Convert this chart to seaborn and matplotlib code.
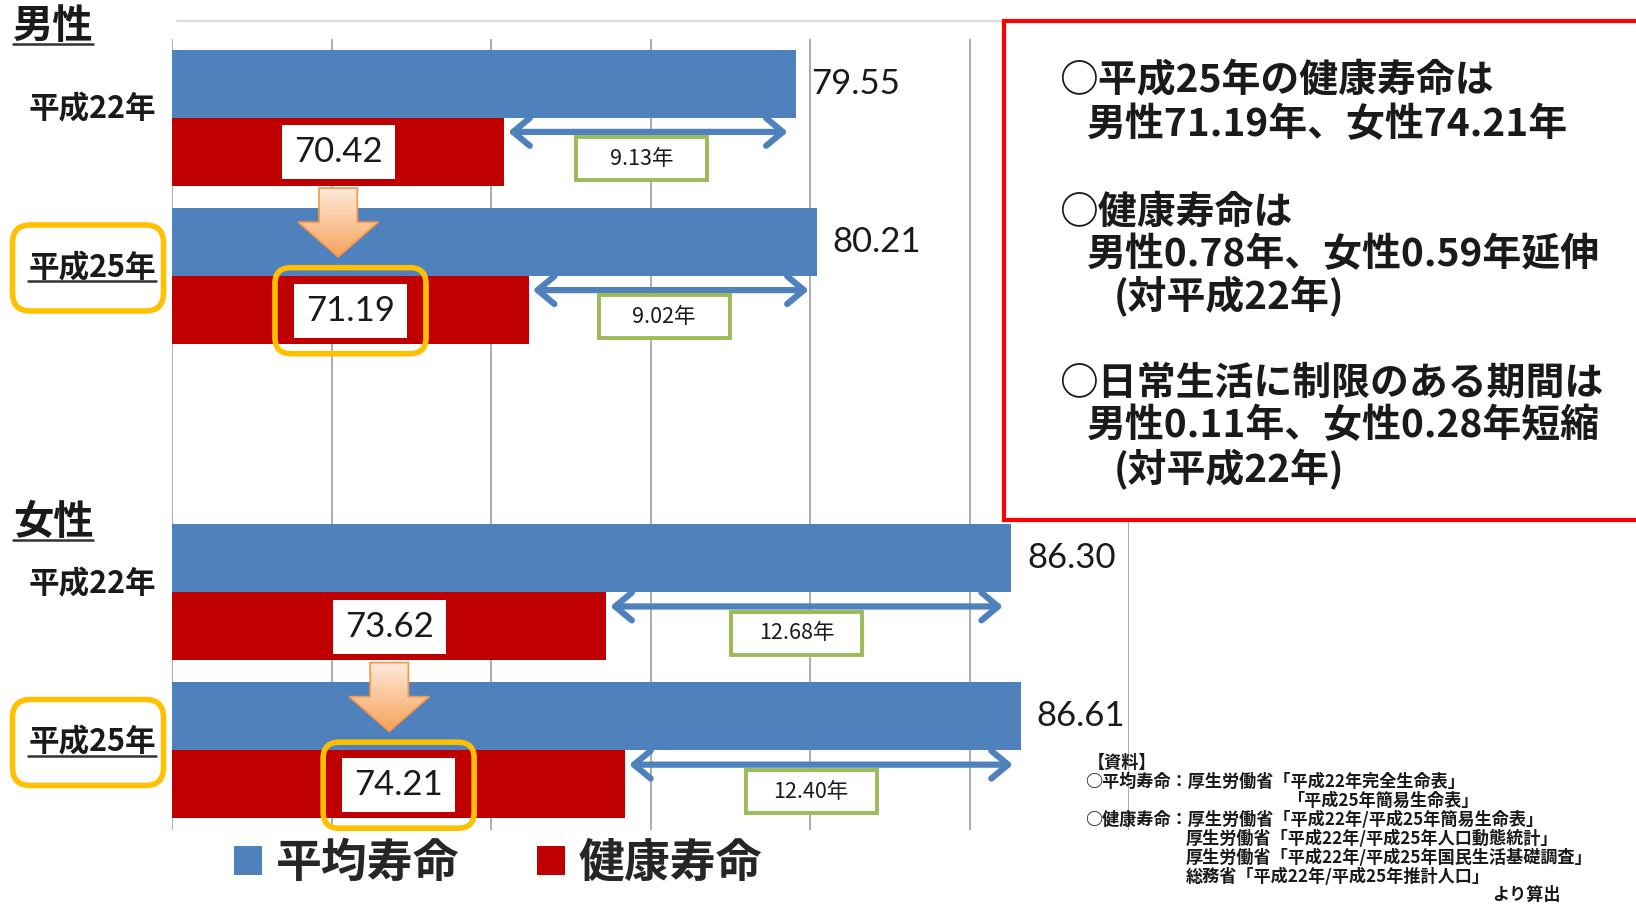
import numpy as np
import pandas as pd
import seaborn as sns
import matplotlib.pyplot as plt
from matplotlib.patches import FancyBboxPatch, Polygon, Rectangle
from matplotlib.lines import Line2D
from matplotlib.transforms import IdentityTransform, blended_transform_factory
from matplotlib.colors import LinearSegmentedColormap

# 男性・女性 × 平成22年/平成25年（男女の間は空き枠）
groups = ['男性 平成22年', '男性 平成25年', '', '女性 平成22年', '女性 平成25年']
year_labels = ['平成22年', '平成25年', '', '平成22年', '平成25年']
avg_life = [79.55, 80.21, np.nan, 86.30, 86.61]
healthy_life = [70.42, 71.19, np.nan, 73.62, 74.21]
gap_labels = ['9.13年', '9.02年', '', '12.68年', '12.40年']
highlight = [False, True, False, False, True]
series = ['平均寿命', '健康寿命']
colors = ['#4f81bd', '#c00000']

note_lines = ['○平成25年の健康寿命は', '男性71.19年、女性74.21年',
              '○健康寿命は', '男性0.78年、女性0.59年延伸', '(対平成22年)',
              '○日常生活に制限のある期間は', '男性0.11年、女性0.28年短縮', '(対平成22年)']
note_indent = [0, 1, 0, 1, 2, 0, 1, 2]
note_y = [81, 125, 212, 255, 297, 383, 426, 470]

source_lines = ['【資料】',
                '○平均寿命：厚生労働省「平成22年完全生命表」',
                '「平成25年簡易生命表」',
                '○健康寿命：厚生労働省「平成22年/平成25年簡易生命表」',
                '厚生労働省「平成22年/平成25年人口動態統計」',
                '厚生労働省「平成22年/平成25年国民生活基礎調査」',
                '総務省「平成22年/平成25年推計人口」',
                'より算出']
source_x = [1088, 1085, 1287, 1085, 1186, 1186, 1186, 1492]
source_y = [763, 782, 801, 820, 839, 858, 877, 895]

rows = []
for g, a, h in zip(groups, avg_life, healthy_life):
    if g:
        rows.append((g, series[0], a))
        rows.append((g, series[1], h))
df = pd.DataFrame(rows, columns=['group', 'series', 'years'])

sns.set_style('white')
plt.rcParams['font.family'] = ['Noto Sans CJK JP', 'DejaVu Sans']

W, H = 1636, 905
fig = plt.figure(figsize=(W / 100, H / 100), dpi=100)
ax = fig.add_axes([172 / W, 1 - 829.5 / H, (1129 - 172) / W, (829.5 - 38.6) / H])

sns.barplot(data=df, y='group', x='years', hue='series', order=groups,
            hue_order=series, palette=colors, orient='h', width=0.86,
            saturation=1, linewidth=0, errorbar=None, ax=ax)

ax.set_xlim(60, 90)
ax.set_ylim(4.5, -0.5)
ax.set_xticks(range(60, 91, 5))
ax.grid(axis='x', color='#a6a6a6', lw=1.3)
ax.grid(axis='y', visible=False)
ax.set_axisbelow(True)
ax.tick_params(length=0, labelbottom=False, labelleft=False)
ax.set_xlabel('')
ax.set_ylabel('')
for s in ax.spines.values():
    s.set_visible(False)

sns.move_legend(ax, 'center', bbox_to_anchor=(0.3045, 0.0453),
                bbox_transform=fig.transFigure, ncol=2, title=None,
                frameon=False, prop={'size': 33, 'weight': 'bold'},
                handlelength=0.6, handleheight=0.6, handletextpad=0.3,
                columnspacing=1.7)


def px_box(x, y, w, h, zorder=5, **kw):
    # 固定ピクセルサイズの枠（中心はデータ座標）
    cx, cy = ax.transData.transform((x, y))
    p = FancyBboxPatch((cx - w / 2, cy - h / 2), w, h,
                       transform=IdentityTransform(), clip_on=False,
                       zorder=zorder, **kw)
    ax.add_artist(p)
    return p


x0 = ax.get_xlim()[0]
arrow_cmap = LinearSegmentedColormap.from_list('arr', ['#fdeadb', '#f7a25a'])
yl_trans = blended_transform_factory(fig.transFigure, ax.transData)
underline_me = []

for i, g in enumerate(groups):
    if not g:
        continue
    a, h = avg_life[i], healthy_life[i]
    # 平均寿命の値
    ax.text(a + 0.5, i - 0.215, f'{a:.2f}', family='Lato', fontsize=25,
            va='center', ha='left', color='#1a1a1a')
    # 健康寿命の値（白枠）
    xm = (x0 + h) / 2
    px_box(xm, i + 0.22, 113, 54, boxstyle='square,pad=0', fc='white', ec='none')
    ax.text(xm, i + 0.22, f'{h:.2f}', family='Lato', fontsize=25,
            va='center', ha='center', color='#1a1a1a', zorder=7)
    if highlight[i]:
        px_box(xm, i + 0.22, 151, 86, zorder=6,
               boxstyle='round,pad=0,rounding_size=16', fc='none',
               ec='#ffc000', lw=4)
    # 差の両矢印
    ax.annotate('', xy=(a - 0.25, i + 0.09), xytext=(h + 0.12, i + 0.09),
                arrowprops=dict(arrowstyle='<->,head_length=0.6,head_width=0.5',
                                color='#4f81bd', lw=4.5, mutation_scale=20,
                                shrinkA=0, shrinkB=0), zorder=4)
    xg = h + 0.47 * (a - h)
    px_box(xg, i + 0.26, 131, 43, boxstyle='square,pad=0', fc='white',
           ec='#9bbb59', lw=2.8)
    ax.text(xg, i + 0.26, gap_labels[i], fontsize=15.5, va='center',
            ha='center', color='#1a1a1a', zorder=7)
    # 年次ラベル
    t = ax.text(92 / W, i - 0.05, year_labels[i], transform=yl_trans,
                fontsize=22, weight='bold', ha='center', va='center',
                color='#1a1a1a', clip_on=False)
    if highlight[i]:
        underline_me.append(t)
        cy = ax.transData.transform((0, i - 0.05))[1]
        p = FancyBboxPatch((12.5, cy - 43), 151, 86, transform=IdentityTransform(),
                           boxstyle='round,pad=0,rounding_size=18', fc='none',
                           ec='#ffc000', lw=4, clip_on=False)
        ax.add_artist(p)
    # 平成22年→平成25年 の下向き矢印（グラデーション）
    if not highlight[i]:
        sw, hw = 0.6, 1.26
        top, hs, tip = i + 0.445, i + 0.66, i + 0.88
        pts = [(xm - sw, top), (xm + sw, top), (xm + sw, hs), (xm + hw, hs),
               (xm, tip), (xm - hw, hs), (xm - sw, hs)]
        poly = Polygon(pts, closed=True, fc='none', ec='#f79646', lw=1.2, zorder=5)
        ax.add_patch(poly)
        im = ax.imshow(np.linspace(0, 1, 256)[:, None], cmap=arrow_cmap,
                       extent=[xm - hw, xm + hw, tip, top], aspect='auto',
                       origin='upper', zorder=4)
        im.set_clip_path(poly)

ax.set_xlim(60, 90)
ax.set_ylim(4.5, -0.5)

# 男性・女性の見出し
for label, yv in [('男性', -0.578), ('女性', 2.557)]:
    t = ax.text(53 / W, yv, label, transform=yl_trans, fontsize=29,
                weight='bold', ha='center', va='center', color='#1a1a1a',
                clip_on=False)
    underline_me.append(t)

# 上端の薄い線
fig.add_artist(Line2D([177 / W, 1002 / W], [1 - 21 / H, 1 - 21 / H],
                      transform=fig.transFigure, color='#dcdcdc', lw=1.5))

# 右上の赤枠と説明文
fig.add_artist(Rectangle((1004 / W, 1 - 520 / H), 0.45, (520 - 21) / H,
                         transform=fig.transFigure, fc='white', ec='#ff0000',
                         lw=3, zorder=3))
indent_x = [1059, 1087, 1114]
for s, ind, yy in zip(note_lines, note_indent, note_y):
    fig.text(indent_x[ind] / W, 1 - yy / H, s, fontsize=28, weight='bold',
             ha='left', va='center', color='#1a1a1a', zorder=4)

# 資料
for s, xx, yy in zip(source_lines, source_x, source_y):
    fig.text(xx / W, 1 - yy / H, s, fontsize=12.3, weight='bold',
             ha='left', va='center', color='#1a1a1a')

# 下線
fig.canvas.draw()
for t in underline_me:
    bb = t.get_window_extent()
    ax.add_artist(Line2D([bb.x0, bb.x1], [bb.y0 + 3, bb.y0 + 3],
                         transform=IdentityTransform(), color='#333333',
                         lw=1.8, clip_on=False))

fig.savefig('out.png', dpi=100)
